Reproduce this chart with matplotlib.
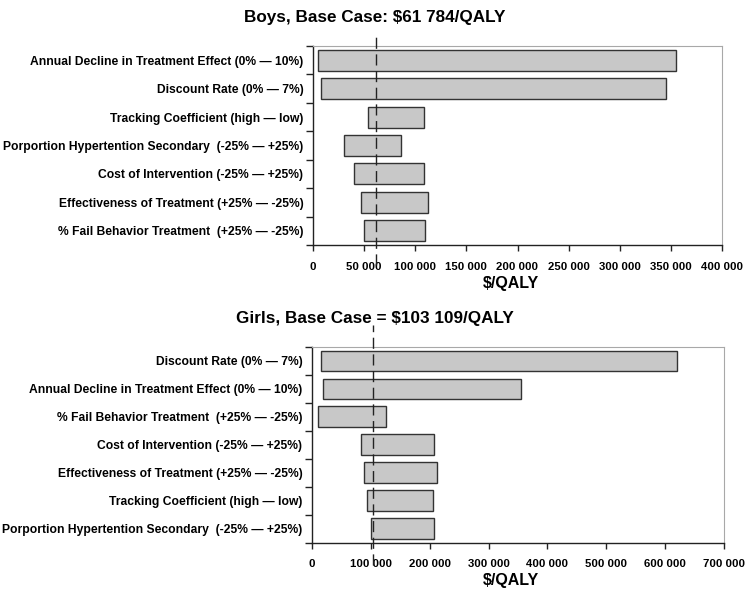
import matplotlib
matplotlib.use("Agg")
import matplotlib.pyplot as plt
import numpy as np
from matplotlib.ticker import FixedLocator, FuncFormatter

plt.rcParams['font.family'] = ['Liberation Sans', 'DejaVu Sans']

labels_boys = ["Annual Decline in Treatment Effect (0% \u2014 10%)",
               "Discount Rate (0% \u2014 7%)",
               "Tracking Coefficient (high \u2014 low)",
               "Porportion Hypertention Secondary  (-25% \u2014 +25%)",
               "Cost of Intervention (-25% \u2014 +25%)",
               "Effectiveness of Treatment (+25% \u2014 -25%)",
               "% Fail Behavior Treatment  (+25% \u2014 -25%)"]
low_boys = [5000, 7500, 54000, 30500, 40500, 46500, 49500]
high_boys = [355000, 345000, 109000, 86500, 109000, 112000, 110000]
base_boys = 61784
ticks_boys = [0, 50000, 100000, 150000, 200000, 250000, 300000, 350000, 400000]

labels_girls = ["Discount Rate (0% \u2014 7%)",
                "Annual Decline in Treatment Effect (0% \u2014 10%)",
                "% Fail Behavior Treatment  (+25% \u2014 -25%)",
                "Cost of Intervention (-25% \u2014 +25%)",
                "Effectiveness of Treatment (+25% \u2014 -25%)",
                "Tracking Coefficient (high \u2014 low)",
                "Porportion Hypertention Secondary  (-25% \u2014 +25%)"]
low_girls = [16000, 19000, 10000, 83000, 88000, 94000, 101000]
high_girls = [620000, 355500, 125500, 207000, 212000, 205000, 207000]
base_girls = 103109
ticks_girls = [0, 100000, 200000, 300000, 400000, 500000, 600000, 700000]

W, H = 749, 595
fig = plt.figure(figsize=(W / 100, H / 100), dpi=100)

def fmt(v, pos):
    return f"{int(v):,}".replace(",", " ")

def draw(px, labels, low, high, base, ticks, title, vline_lim):
    x0, y0, x1, y1 = px
    ax = fig.add_axes([x0 / W, 1 - y1 / H, (x1 - x0) / W, (y1 - y0) / H])
    n = len(labels)
    y = np.arange(n)
    ax.barh(y, np.array(high) - np.array(low), left=low, height=0.74,
            color="#c8c8c8", edgecolor="#333333", linewidth=1.0, zorder=2)
    ax.set_ylim(n - 0.5, -0.5)
    ax.set_xlim(ticks[0], ticks[-1])
    ax.set_yticks(y)
    ax.set_yticklabels(labels, fontsize=8.7, fontweight="bold")
    ax.yaxis.set_minor_locator(FixedLocator(np.arange(n + 1) - 0.5))
    ax.tick_params(axis="y", which="major", length=0, pad=7)
    ax.tick_params(axis="y", which="minor", length=5, width=1, color="#222222", direction="out")
    ax.set_xticks(ticks)
    ax.xaxis.set_major_formatter(FuncFormatter(fmt))
    ax.tick_params(axis="x", length=4, width=1, color="#222222", direction="out", labelsize=8.2, pad=8)
    for lab in ax.get_xticklabels():
        lab.set_fontweight("bold")
    for s in ["top", "right"]:
        ax.spines[s].set_color("#a8a8a8")
    for s in ["left", "bottom"]:
        ax.spines[s].set_color("#222222")
        ax.spines[s].set_linewidth(1.0)
    ax.set_xlabel("$/QALY", fontsize=11.5, fontweight="bold")
    ax.xaxis.set_label_coords((511 - x0) / (x1 - x0), -31.0 / (y1 - y0))
    ax.axvline(base, ymin=vline_lim[0], ymax=vline_lim[1], color="#222222",
               linewidth=1.0, dashes=(8, 4), clip_on=False, zorder=3)
    t = ax.set_title(title, fontsize=12.3, fontweight="bold", pad=17)
    t.set_x((W / 2 - x0) / (x1 - x0))
    return ax

draw((313, 46, 722, 245), labels_boys, low_boys, high_boys,
     base_boys, ticks_boys, "Boys, Base Case: $61 784/QALY", (-0.1, 1.07))
draw((312, 347, 724, 542.5), labels_girls, low_girls, high_girls,
     base_girls, ticks_girls, "Girls, Base Case = $103 109/QALY", (-0.115, 1.11))

fig.savefig("out.png", dpi=100)
